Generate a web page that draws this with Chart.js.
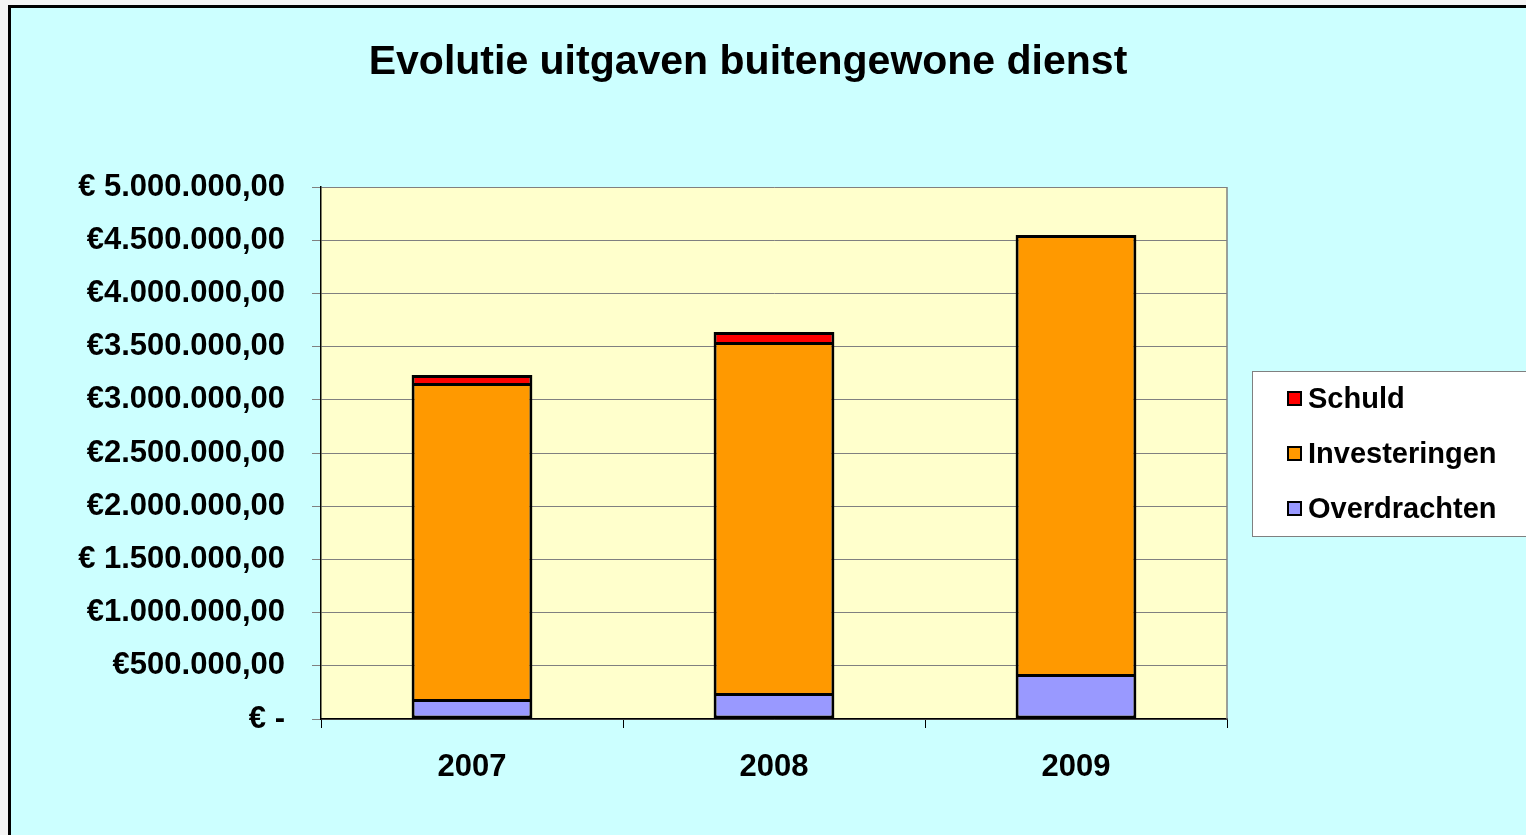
<!DOCTYPE html>
<html>
<head>
<meta charset="utf-8">
<script src="https://cdn.jsdelivr.net/npm/chart.js@4"></script>
<style>
  html, body { margin: 0; padding: 0; background: #f4f4f4; }
  #wrap { width: 1526px; height: 835px; position: relative; }
</style>
</head>
<body>
<div id="wrap"><canvas id="c" width="1526" height="835"></canvas></div>
<script>
const categories = ['2007', '2008', '2009'];
const overdrachten = [188000, 244000, 423000];
const investeringen = [2970000, 3299000, 4126000];
const schuld = [75000, 94000, 0];
const yTickLabels = {
  0: '€ -',
  500000: '€500.000,00',
  1000000: '€1.000.000,00',
  1500000: '€ 1.500.000,00',
  2000000: '€2.000.000,00',
  2500000: '€2.500.000,00',
  3000000: '€3.000.000,00',
  3500000: '€3.500.000,00',
  4000000: '€4.000.000,00',
  4500000: '€4.500.000,00',
  5000000: '€ 5.000.000,00'
};
const titleText = 'Evolutie uitgaven buitengewone dienst';

const FONT = 'Arial, "Liberation Sans", sans-serif';

const bgPlugin = {
  id: 'bgPlugin',
  beforeDraw(chart) {
    const ctx = chart.ctx;
    ctx.save();
    ctx.fillStyle = '#CCFFFF';
    ctx.fillRect(10, 5, chart.width, chart.height);
    ctx.lineWidth = 3;
    ctx.strokeStyle = '#000';
    ctx.strokeRect(9.5, 6.5, chart.width + 10, chart.height + 10);
    const a = chart.chartArea;
    ctx.fillStyle = '#FFFFCC';
    ctx.fillRect(a.left, a.top, a.right - a.left, a.bottom - a.top);
    ctx.fillStyle = '#000';
    ctx.font = 'bold 41px ' + FONT;
    ctx.textAlign = 'center';
    ctx.textBaseline = 'middle';
    ctx.fillText(titleText, 748, 63);
    ctx.restore();
  },
  beforeDatasetsDraw(chart) {
    const ctx = chart.ctx;
    const a = chart.chartArea;
    ctx.save();
    ctx.strokeStyle = '#808080';
    ctx.lineWidth = 1.5;
    ctx.beginPath();
    ctx.moveTo(a.right, a.top);
    ctx.lineTo(a.right, a.bottom);
    ctx.stroke();
    ctx.restore();
  },
  afterDraw(chart) {
    const ctx = chart.ctx;
    ctx.save();
    const bx = 1252.5, by = 371.5, bw = 300, bh = 165;
    ctx.fillStyle = '#FFFFFF';
    ctx.fillRect(bx, by, bw, bh);
    ctx.strokeStyle = '#808080';
    ctx.lineWidth = 1;
    ctx.strokeRect(bx, by, bw, bh);
    const ds = chart.data.datasets.slice().reverse();
    ctx.font = 'bold 29px ' + FONT;
    ctx.textBaseline = 'middle';
    ds.forEach((d, i) => {
      const cy = 399 + i * 55;
      ctx.fillStyle = d.backgroundColor;
      ctx.fillRect(1288, cy - 7, 13, 13);
      ctx.strokeStyle = '#000';
      ctx.lineWidth = 2;
      ctx.strokeRect(1288, cy - 7, 13, 13);
      ctx.fillStyle = '#000';
      ctx.fillText(d.label, 1308, cy + 1);
    });
    ctx.restore();
  }
};

const bwUpper = { top: 3, left: 3, right: 3, bottom: 0 };
const bwBottom = { top: 3, left: 3, right: 3, bottom: 3 };

new Chart(document.getElementById('c'), {
  type: 'bar',
  data: {
    labels: categories,
    datasets: [
      { label: 'Overdrachten', data: overdrachten, backgroundColor: '#9999FF', borderColor: '#000', borderWidth: bwBottom, borderSkipped: false },
      { label: 'Investeringen', data: investeringen, backgroundColor: '#FF9900', borderColor: '#000', borderWidth: bwUpper, borderSkipped: false },
      { label: 'Schuld', data: schuld, backgroundColor: '#FF0000', borderColor: '#000', borderWidth: bwUpper, borderSkipped: false }
    ]
  },
  options: {
    responsive: false,
    animation: false,
    devicePixelRatio: 1,
    layout: { padding: { top: 187, left: 0, right: 299, bottom: 0 } },
    datasets: { bar: { barPercentage: 0.4, categoryPercentage: 1.0 } },
    plugins: {
      legend: { display: false },
      tooltip: { enabled: false },
      title: { display: false }
    },
    scales: {
      x: {
        stacked: true,
        grid: { display: true, drawOnChartArea: false, drawTicks: true, tickLength: 9, color: '#000', offset: true },
        border: { display: true, color: '#000', width: 1.5 },
        ticks: { color: '#000', font: { family: FONT, size: 31, weight: 'bold' }, padding: 21 },
        afterFit(s) { s.height = 835 - 719; }
      },
      y: {
        stacked: true,
        min: 0,
        max: 5000000,
        afterBuildTicks(s) {
          s.ticks = Object.keys(yTickLabels).map(v => ({ value: +v }));
        },
        grid: { color: '#808080', lineWidth: 1, tickLength: 9, drawTicks: true },
        border: { display: true, color: '#000', width: 1.5 },
        ticks: {
          color: '#000',
          font: { family: FONT, size: 31, weight: 'bold' },
          padding: 27,
          callback(v) { return yTickLabels[v]; }
        },
        afterFit(s) { s.width = 321; }
      }
    }
  },
  plugins: [bgPlugin]
});
</script>
</body>
</html>
